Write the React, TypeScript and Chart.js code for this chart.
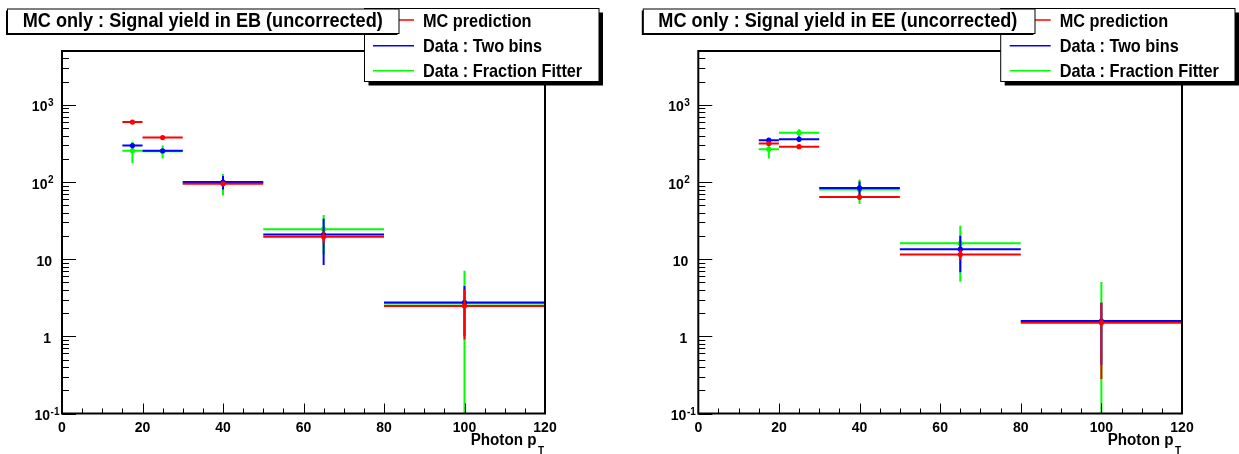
import React, { useEffect, useRef } from "react";
import { Chart, registerables } from "chart.js";
Chart.register(...registerables);

// ---- data (photon pT bins) ----
const binLow = [15, 20, 30, 50, 80];
const binHigh = [20, 30, 50, 80, 120];
const binCenter = [17.5, 25, 40, 65, 100];

// EB
const ebMC = [600, 377, 95, 19.5, 2.48];
const ebMCErr = [15, 10, 5, 3.5, 1.57];
const ebTwoBins = [297, 254, 100, 20.9, 2.75];
const ebTwoBinsErr = [22, 15, 20, 12.5, 1.75];
const ebFraction = [254, 250, 97, 24.5, 2.66];
const ebFractionErr = [78, 48, 30, 13, 4.4];

// EE
const eeMC = [315, 288, 64, 11.5, 1.5];
const eeMCErr = [10, 10, 5.5, 1.7, 1.22];
const eeTwoBins = [349, 360, 84, 13.5, 1.58];
const eeTwoBinsErr = [20, 30, 17.5, 6.7, 1.15];
const eeFraction = [267, 437, 80, 16.1, 1.55];
const eeFractionErr = [65, 47, 28, 11, 3.5];

const seriesNames = ["MC prediction", "Data : Two bins", "Data : Fraction Fitter"];
const seriesColors = ["#ff0000", "#0000ff", "#00ff00"];

const titles = [
  "MC only : Signal yield in EB (uncorrected)",
  "MC only : Signal yield in EE (uncorrected)",
];

const xMin = 0;
const xMax = 120;
const yMin = 0.1;
const yMax = 5000;
const xTickValues = [0, 20, 40, 60, 80, 100, 120];
const xTickLabels = ["0", "20", "40", "60", "80", "100", "120"];
const xMinorStep = 5;
const yTickValues = [0.1, 1, 10, 100, 1000];
const yTickBases = ["10", "1", "10", "10", "10"];
const yTickExps = ["-1", "", "", "2", "3"];
const xAxisTitle = "Photon p";
const xAxisTitleSub = "T";

// ---- layout / style ----
const FONT = "'Liberation Sans', Arial, Helvetica, sans-serif";
const panels = [
  {
    left: 0,
    width: 620,
    area: { l: 62, r: 545, t: 51, b: 413.5 },
    title: { x0: 7.5, x1: 399, y0: 9, y1: 33.5, tx: 22.7 },
    legend: { x0: 364.5, x1: 599, y0: 8.5, y1: 81.5, lx0: 373, lx1: 414, tx: 423 },
  },
  {
    left: 620,
    width: 619,
    area: { l: 78.3, r: 562, t: 51, b: 413.5 },
    title: { x0: 23.3, x1: 415, y0: 9, y1: 33.5, tx: 38.3 },
    legend: { x0: 380.7, x1: 615, y0: 8.5, y1: 81.5, lx0: 389.7, lx1: 430.7, tx: 439.7 },
  },
];
const HEIGHT = 454;

function drawText(
  ctx: CanvasRenderingContext2D,
  s: string,
  x: number,
  y: number,
  font: string,
  align: "left" | "right" | "center" = "left",
  sx = 1
) {
  ctx.save();
  ctx.font = font;
  ctx.textBaseline = "alphabetic";
  ctx.textAlign = "left";
  const w = ctx.measureText(s).width * sx;
  const x0 = align === "left" ? x : align === "right" ? x - w : x - w / 2;
  ctx.translate(x0, y);
  ctx.scale(sx, 1);
  ctx.fillStyle = "#000";
  ctx.fillText(s, 0, 0);
  ctx.restore();
  return w;
}

function measure(ctx: CanvasRenderingContext2D, s: string, font: string, sx = 1) {
  ctx.save();
  ctx.font = font;
  const w = ctx.measureText(s).width * sx;
  ctx.restore();
  return w;
}

function line(ctx: CanvasRenderingContext2D, x0: number, y0: number, x1: number, y1: number) {
  ctx.beginPath();
  ctx.moveTo(x0, y0);
  ctx.lineTo(x1, y1);
  ctx.stroke();
}

function makePlugin(panelIndex: number) {
  const p = panels[panelIndex];
  return {
    id: "rootStyle" + panelIndex,
    beforeDraw(chart: any) {
      const ctx = chart.ctx as CanvasRenderingContext2D;
      ctx.save();
      ctx.fillStyle = "#fff";
      ctx.fillRect(0, 0, chart.width, chart.height);
      ctx.restore();
    },
    beforeDatasetDraw(chart: any, args: any) {
      const ds = chart.data.datasets[args.index];
      const ctx = chart.ctx as CanvasRenderingContext2D;
      const { chartArea } = chart;
      const xs = chart.scales.x;
      const ys = chart.scales.y;
      ctx.save();
      ctx.beginPath();
      ctx.rect(chartArea.left, chartArea.top, chartArea.right - chartArea.left, chartArea.bottom - chartArea.top);
      ctx.clip();
      ctx.strokeStyle = ds.borderColor;
      ctx.lineWidth = 2;
      ds.data.forEach((pt: any, i: number) => {
        const py = ys.getPixelForValue(pt.y);
        const px = xs.getPixelForValue(pt.x);
        line(ctx, xs.getPixelForValue(ds.lows[i]), py, xs.getPixelForValue(ds.highs[i]), py);
        const hi = pt.y + ds.errs[i];
        const lo = pt.y - ds.errs[i];
        const pyHi = ys.getPixelForValue(hi);
        const pyLo = lo > 0 ? ys.getPixelForValue(lo) : chartArea.bottom + 5;
        line(ctx, px, pyHi, px, pyLo);
      });
      ctx.restore();
    },
    afterDatasetsDraw(chart: any) {
      const ctx = chart.ctx as CanvasRenderingContext2D;
      const xs = chart.scales.x;
      const ys = chart.scales.y;
      const { l, r, t, b } = p.area;
      ctx.save();
      ctx.strokeStyle = "#000";
      ctx.lineWidth = 2;
      ctx.strokeRect(l, t, r - l, b - t);
      // x ticks
      ctx.lineWidth = 1;
      for (let v = xMin; v <= xMax + 1e-9; v += xMinorStep) {
        const px = Math.round(xs.getPixelForValue(v)) + 0.5;
        const major = xTickValues.indexOf(v) >= 0;
        line(ctx, px, b, px, b - (major ? 10 : 5));
      }
      // y ticks (log)
      for (let d = Math.floor(Math.log10(yMin)); d <= Math.ceil(Math.log10(yMax)); d++) {
        for (let m = 1; m <= 9; m++) {
          const v = m * Math.pow(10, d);
          if (v < yMin * 0.999 || v > yMax * 1.001) continue;
          const py = Math.round(ys.getPixelForValue(v)) + 0.5;
          line(ctx, l, py, l + (m === 1 ? 14 : 7), py);
        }
      }
      // x labels
      const labFont = `bold 14px ${FONT}`;
      xTickValues.forEach((v, i) => {
        drawText(ctx, xTickLabels[i], xs.getPixelForValue(v), b + 18, labFont, "center");
      });
      // y labels
      const supFont = `bold 10px ${FONT}`;
      yTickValues.forEach((v, i) => {
        const py = ys.getPixelForValue(v);
        const base = yTickBases[i];
        const exp = yTickExps[i];
        let right = l - 8.5;
        if (exp === "-1") right = l - 2.5;
        if (!exp && base === "10") right = l - 10;
        if (!exp && base === "1") right = l - 11;
        const wSup = exp ? measure(ctx, exp, supFont) + 0.5 : 0;
        drawText(ctx, base, right - wSup, py + 6.5, labFont, "right");
        if (exp) drawText(ctx, exp, right - wSup + 0.5, py + 1, supFont, "left");
      });
      // axis title
      drawText(ctx, xAxisTitle, r - 8.5, b + 31.5, `bold 16px ${FONT}`, "right", 0.95);
      drawText(ctx, xAxisTitleSub, r - 7, b + 40.5, `bold 10px ${FONT}`, "left");

      // legend
      const L = p.legend;
      ctx.fillStyle = "#000";
      ctx.fillRect(L.x0 + 4, L.y0 + 4, L.x1 - L.x0, L.y1 - L.y0);
      ctx.fillStyle = "#fff";
      ctx.fillRect(L.x0, L.y0, L.x1 - L.x0, L.y1 - L.y0);
      ctx.lineWidth = 1;
      ctx.strokeStyle = "#000";
      ctx.strokeRect(L.x0, L.y0, L.x1 - L.x0, L.y1 - L.y0);
      const rowY = [20, 45.7, 70.7];
      seriesNames.forEach((name, i) => {
        ctx.strokeStyle = seriesColors[i];
        ctx.lineWidth = 1.5;
        line(ctx, L.lx0, rowY[i], L.lx1, rowY[i]);
        drawText(ctx, name, L.tx, rowY[i] + 6.7, `bold 18.5px ${FONT}`, "left", 0.88);
      });

      // title box
      const T = p.title;
      ctx.fillStyle = "#000";
      ctx.fillRect(T.x0 - 1.5, T.y0 + 1.5, T.x1 - T.x0, T.y1 - T.y0);
      ctx.fillStyle = "#fff";
      ctx.fillRect(T.x0, T.y0, T.x1 - T.x0, T.y1 - T.y0);
      ctx.strokeStyle = "#000";
      ctx.lineWidth = 1;
      ctx.strokeRect(T.x0, T.y0, T.x1 - T.x0, T.y1 - T.y0);
      drawText(ctx, titles[panelIndex], T.tx, 26.7, `bold 20px ${FONT}`, "left", 0.905);
      ctx.restore();
    },
  };
}

function buildDatasets(values: number[][], errs: number[][]) {
  return values.map((vals, s) => ({
    label: seriesNames[s],
    data: vals.map((v, i) => ({ x: binCenter[i], y: v })),
    errs: errs[s],
    lows: binLow,
    highs: binHigh,
    borderColor: seriesColors[s],
    backgroundColor: seriesColors[s],
    pointBackgroundColor: seriesColors[s],
    pointBorderColor: seriesColors[s],
    pointBorderWidth: 0,
    pointRadius: 2.6,
    showLine: false,
  }));
}

function Panel({ index, values, errs }: { index: number; values: number[][]; errs: number[][] }) {
  const ref = useRef<HTMLCanvasElement | null>(null);
  const p = panels[index];
  useEffect(() => {
    if (!ref.current) return;
    const chart = new Chart(ref.current, {
      type: "scatter",
      data: { datasets: buildDatasets(values, errs) as any },
      options: {
        animation: false,
        responsive: false,
        devicePixelRatio: 1,
        layout: {
          padding: { left: p.area.l, right: p.width - p.area.r, top: p.area.t, bottom: HEIGHT - p.area.b },
        },
        scales: {
          x: { type: "linear", min: xMin, max: xMax, display: false },
          y: { type: "logarithmic", min: yMin, max: yMax, display: false },
        },
        plugins: { legend: { display: false }, tooltip: { enabled: false }, title: { display: false } },
      },
      plugins: [makePlugin(index)],
    });
    return () => chart.destroy();
  }, []);
  return (
    <canvas
      ref={ref}
      width={p.width}
      height={HEIGHT}
      style={{ position: "absolute", left: p.left, top: 0, width: p.width, height: HEIGHT }}
    />
  );
}

export default function App() {
  return (
    <div style={{ position: "fixed", left: 0, top: 0, width: 1239, height: HEIGHT, background: "#fff" }}>
      <Panel
        index={0}
        values={[ebMC, ebTwoBins, ebFraction]}
        errs={[ebMCErr, ebTwoBinsErr, ebFractionErr]}
      />
      <Panel
        index={1}
        values={[eeMC, eeTwoBins, eeFraction]}
        errs={[eeMCErr, eeTwoBinsErr, eeFractionErr]}
      />
    </div>
  );
}
